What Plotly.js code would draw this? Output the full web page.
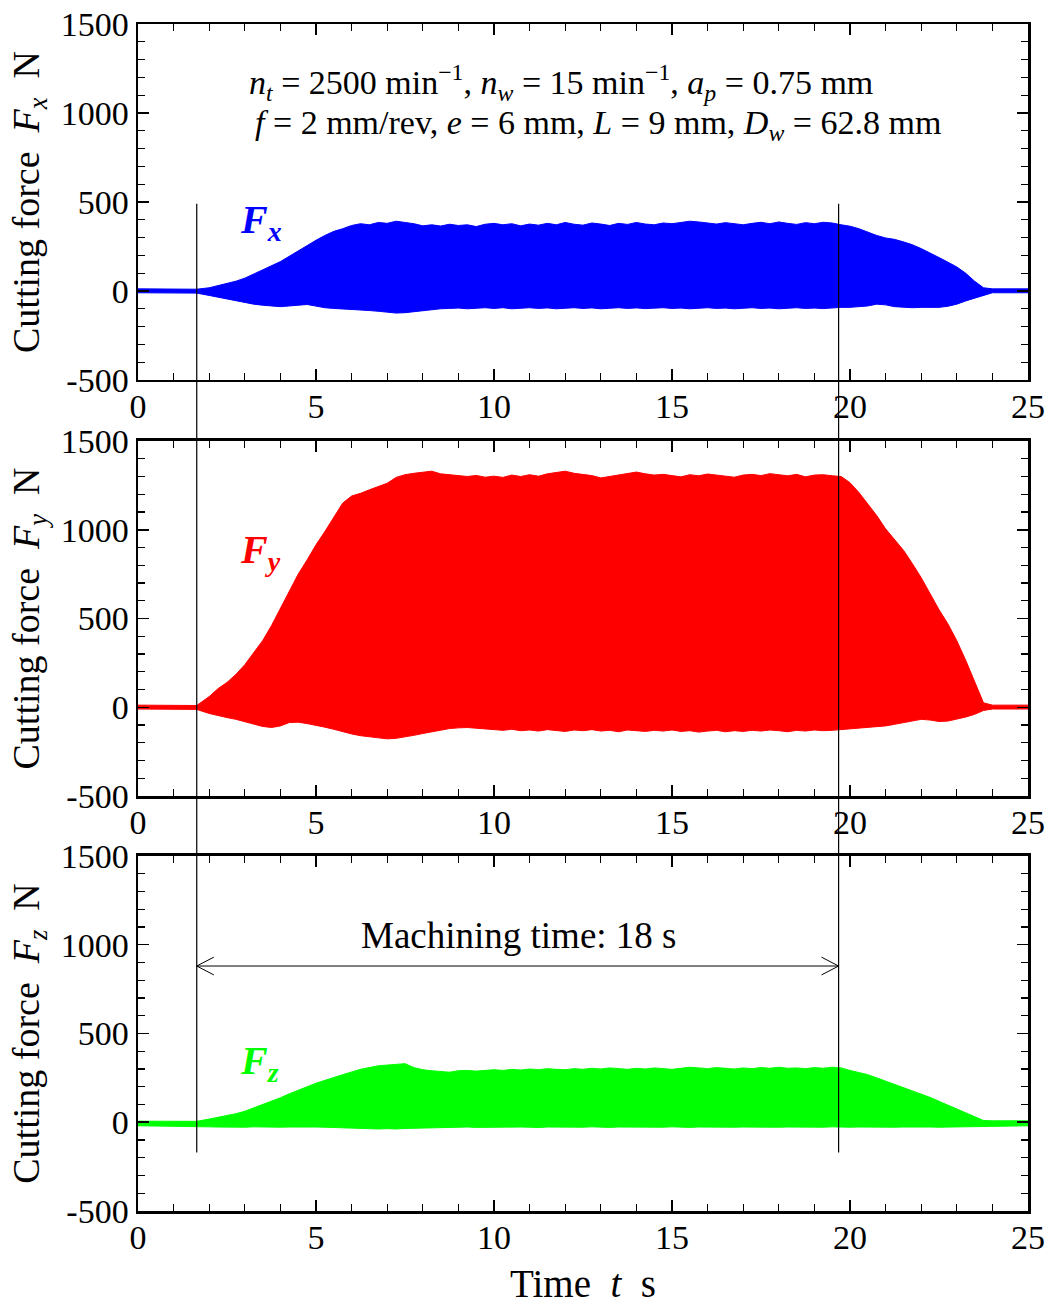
<!DOCTYPE html>
<html>
<head>
<meta charset="utf-8">
<script src="https://cdn.plot.ly/plotly-3.0.1.min.js"></script>
<style>html,body{margin:0;padding:0;background:#fff;}#chart{width:1051px;height:1305px;}</style>
</head>
<body>
<div id="chart"></div>
<script>
// Time axis (s)
const timeS = [0, 1.65,
  2, 2.25, 2.5, 2.75, 3, 3.25, 3.5, 3.75, 4, 4.25, 4.5, 4.75, 5, 5.25, 5.5, 5.75,
  6, 6.25, 6.5, 6.75, 7, 7.25, 7.5, 7.75, 8, 8.25, 8.5, 8.75, 9, 9.25, 9.5, 9.75,
  10, 10.25, 10.5, 10.75, 11, 11.25, 11.5, 11.75, 12, 12.25, 12.5, 12.75, 13, 13.25, 13.5, 13.75,
  14, 14.25, 14.5, 14.75, 15, 15.25, 15.5, 15.75, 16, 16.25, 16.5, 16.75, 17, 17.25, 17.5, 17.75,
  18, 18.25, 18.5, 18.75, 19, 19.25, 19.5, 19.75, 20, 20.25, 20.5, 20.75, 21, 21.25, 21.5, 21.75,
  22, 22.25, 22.5, 22.75, 23, 23.25, 23.5, 23.75, 24, 25];

// Fx envelope (N)
const fxUpper = [12, 10,
  18, 30, 40, 55, 72, 95, 115, 140, 165, 195, 225, 258, 285, 312, 335, 350,
  368, 378, 372, 385, 380, 392, 386, 378, 366, 372, 365, 375, 368, 372, 362, 375,
  380, 372, 378, 366, 376, 370, 380, 372, 385, 375, 370, 382, 376, 368, 380, 374,
  385, 376, 372, 382, 378, 386, 392, 388, 382, 376, 384, 378, 372, 380, 386, 378,
  388, 380, 374, 384, 378, 386, 382, 372, 364, 350, 330, 312, 298, 290, 276, 260,
  238, 215, 188, 162, 135, 100, 55, 18, 12, 12];
const fxLower = [-10, -12,
  -25, -35, -48, -58, -66, -74, -80, -86, -88, -84, -78, -76, -85, -94, -98, -100,
  -104, -108, -110, -114, -118, -124, -122, -116, -108, -104, -100, -98, -96, -100, -96, -94,
  -98, -94, -100, -96, -94, -98, -95, -100, -96, -94, -98, -95, -100, -96, -94, -98,
  -95, -99, -96, -94, -98, -96, -100, -95, -94, -98, -96, -100, -95, -94, -98, -96,
  -100, -95, -94, -98, -96, -99, -95, -92, -92, -88, -84, -74, -78, -88, -92, -94,
  -92, -94, -92, -86, -74, -56, -40, -22, -10, -10];

// Fy envelope (N)
const fyUpper = [12, 10,
  60, 105, 140, 185, 240, 305, 375, 460, 555, 650, 750, 830, 915, 990, 1070, 1150,
  1190, 1205, 1225, 1245, 1262, 1295, 1310, 1318, 1325, 1330, 1315, 1310, 1305, 1300, 1306, 1296,
  1302, 1295, 1308, 1300, 1310, 1302, 1315, 1322, 1330, 1318, 1312, 1305, 1292, 1300, 1310, 1318,
  1325, 1315, 1308, 1312, 1305, 1298, 1310, 1304, 1314, 1308, 1300, 1296, 1308, 1312, 1305, 1316,
  1310, 1304, 1312, 1298, 1308, 1310, 1304, 1300, 1265, 1210, 1145, 1080, 1005, 945, 885, 810,
  730, 640, 550, 470, 375, 265, 140, 25, 12, 12];
const fyLower = [-10, -12,
  -35, -48, -58, -68, -82, -96, -108, -114, -105, -86, -84, -92, -100, -112, -124, -138,
  -150, -160, -165, -172, -178, -175, -168, -158, -148, -138, -128, -120, -116, -114, -118, -122,
  -126, -130, -124, -132, -128, -134, -126, -130, -136, -128, -132, -126, -134, -130, -138, -128,
  -132, -136, -130, -134, -128, -136, -132, -140, -134, -130, -138, -132, -136, -130, -134, -128,
  -132, -138, -130, -134, -128, -132, -130, -126, -125, -120, -114, -110, -105, -96, -86, -76,
  -68, -72, -80, -78, -68, -55, -40, -18, -10, -10];

// Fz envelope (N)
const fzUpper = [6, 5,
  18, 28, 36, 48, 62, 80, 100, 118, 138, 160, 182, 200, 220, 238, 252, 268,
  285, 298, 308, 318, 322, 326, 330, 308, 296, 290, 286, 282, 290, 292, 288, 294,
  296, 292, 298, 294, 300, 296, 302, 298, 296, 302, 298, 304, 300, 306, 302, 298,
  304, 300, 306, 302, 298, 304, 310, 306, 302, 308, 304, 300, 306, 302, 308, 304,
  310, 304, 306, 302, 308, 304, 310, 306, 292, 282, 268, 250, 232, 214, 196, 180,
  162, 140, 118, 96, 74, 50, 28, 10, 8, 8];
const fzLower = [-20, -22,
  -26, -27, -28, -27, -28, -26, -28, -27, -28, -27, -26, -28, -27, -28, -30, -32,
  -34, -36, -35, -38, -36, -38, -35, -34, -30, -28, -27, -28, -28, -27, -29, -28,
  -27, -28, -29, -27, -28, -30, -27, -28, -29, -27, -28, -26, -28, -29, -27, -28,
  -28, -27, -29, -28, -26, -28, -29, -27, -28, -27, -29, -28, -27, -28, -26, -29,
  -28, -27, -28, -29, -27, -28, -26, -28, -28, -27, -28, -26, -27, -28, -27, -26,
  -28, -27, -28, -27, -28, -27, -26, -24, -20, -20];

// Annotation values
const cutStart = 1.65;   // s
const cutEnd = 19.68;    // s
const machiningLabel = 'Machining time: 18 s';

const FONT = '"Liberation Serif", "Times New Roman", Times, serif';
const NB = '\u00a0';
const yRange = [-500, 1500];
const xRange = [0, 25];
const domains = [[0.7001, 1], [0.3496, 0.6487], [0, 0.2991]];

function env(lower, upper, color, xa, ya) {
  return [
    {x: timeS, y: lower, xaxis: xa, yaxis: ya, type: 'scatter', mode: 'lines',
     line: {color: color, width: 1}, hoverinfo: 'skip', showlegend: false},
    {x: timeS, y: upper, xaxis: xa, yaxis: ya, type: 'scatter', mode: 'lines',
     line: {color: color, width: 1}, fill: 'tonexty', fillcolor: color, hoverinfo: 'skip', showlegend: false}
  ];
}

const data = [].concat(
  env(fxLower, fxUpper, '#0000ff', 'x', 'y'),
  env(fyLower, fyUpper, '#ff0000', 'x2', 'y2'),
  env(fzLower, fzUpper, '#00ff00', 'x3', 'y3')
);

function xAxis(anchor) {
  return {
    domain: [0, 1], anchor: anchor, range: xRange, autorange: false,
    tickmode: 'array', tickvals: [0, 5, 10, 15, 20, 25], ticktext: ['0', '5', '10', '15', '20', '25'],
    ticks: 'inside', ticklen: 11, tickwidth: 1.5, tickcolor: '#000',
    minor: {dtick: 1, tick0: 0, ticks: 'inside', ticklen: 7, tickwidth: 1.2, tickcolor: '#000', showgrid: false},
    showline: true, linewidth: 2.5, linecolor: '#000', mirror: 'allticks',
    showgrid: false, zeroline: false, ticklabelstandoff: -5,
    tickfont: {family: FONT, size: 34, color: '#000'}
  };
}
function yAxis(anchor, dom, sub) {
  return {
    domain: dom, anchor: anchor, range: yRange, autorange: false,
    tickmode: 'array', tickvals: [-500, 0, 500, 1000, 1500], ticktext: ['-500', '0', '500', '1000', '1500'],
    ticks: 'inside', ticklen: 11, tickwidth: 1.5, tickcolor: '#000',
    minor: {dtick: 100, tick0: 0, ticks: 'inside', ticklen: 7, tickwidth: 1.2, tickcolor: '#000', showgrid: false},
    showline: true, linewidth: 2.5, linecolor: '#000', mirror: 'allticks',
    showgrid: false, zeroline: false,
    tickfont: {family: FONT, size: 34, color: '#000'},
    title: {text: 'Cutting force' + NB + NB + '<i>F</i><sub><i>' + sub + '</i></sub>' + NB + NB + 'N',
            font: {family: FONT, size: 38, color: '#000'}, standoff: 10}
  };
}

function toPaper(val, dom) {
  return dom[0] + (val - yRange[0]) / (yRange[1] - yRange[0]) * (dom[1] - dom[0]);
}

const lineTop = toPaper(490, domains[0]);
const lineBot = toPaper(-170, domains[2]);
const arrowY = 880;
const headDx = 0.48, headDy = 50;

const shapes = [
  {type: 'line', xref: 'x', yref: 'paper', x0: cutStart, x1: cutStart, y0: lineBot, y1: lineTop, line: {color: '#000', width: 1.2}},
  {type: 'line', xref: 'x', yref: 'paper', x0: cutEnd, x1: cutEnd, y0: lineBot, y1: lineTop, line: {color: '#000', width: 1.2}},
  {type: 'line', xref: 'x3', yref: 'y3', x0: cutStart, x1: cutEnd, y0: arrowY, y1: arrowY, line: {color: '#000', width: 1}},
  {type: 'path', xref: 'x3', yref: 'y3', line: {color: '#000', width: 1},
   path: 'M' + (cutStart + headDx) + ',' + (arrowY + headDy) + ' L' + cutStart + ',' + arrowY + ' L' + (cutStart + headDx) + ',' + (arrowY - headDy)},
  {type: 'path', xref: 'x3', yref: 'y3', line: {color: '#000', width: 1},
   path: 'M' + (cutEnd - headDx) + ',' + (arrowY + headDy) + ' L' + cutEnd + ',' + arrowY + ' L' + (cutEnd - headDx) + ',' + (arrowY - headDy)}
];

const annotations = [
  {xref: 'x', yref: 'y', x: 11.88, y: 1172, showarrow: false, xanchor: 'center', yanchor: 'middle',
   text: '<i>n</i><sub><i>t</i></sub> = 2500 min<sup>−1</sup>, <i>n</i><sub><i>w</i></sub> = 15 min<sup>−1</sup>, <i>a</i><sub><i>p</i></sub> = 0.75 mm',
   font: {family: FONT, size: 34, color: '#000'}},
  {xref: 'x', yref: 'y', x: 12.92, y: 935, showarrow: false, xanchor: 'center', yanchor: 'middle',
   text: '<i>f</i> = 2 mm/rev, <i>e</i> = 6 mm, <i>L</i> = 9 mm, <i>D</i><sub><i>w</i></sub> = 62.8 mm',
   font: {family: FONT, size: 34, color: '#000'}},
  {xref: 'x', yref: 'y', x: 3.45, y: 390, showarrow: false, xanchor: 'center', yanchor: 'middle',
   text: '<b><i>F</i></b><sub><b><i>x</i></b></sub>', font: {family: FONT, size: 40, color: '#0000ff'}},
  {xref: 'x2', yref: 'y2', x: 3.45, y: 875, showarrow: false, xanchor: 'center', yanchor: 'middle',
   text: '<b><i>F</i></b><sub><b><i>y</i></b></sub>', font: {family: FONT, size: 40, color: '#ff0000'}},
  {xref: 'x3', yref: 'y3', x: 3.4, y: 335, showarrow: false, xanchor: 'center', yanchor: 'middle',
   text: '<b><i>F</i></b><sub><b><i>z</i></b></sub>', font: {family: FONT, size: 40, color: '#00ff00'}},
  {xref: 'x3', yref: 'y3', x: 10.7, y: 1050, showarrow: false, xanchor: 'center', yanchor: 'middle',
   text: machiningLabel, font: {family: FONT, size: 37, color: '#000'}}
];

const xa3 = xAxis('y3');
xa3.title = {text: 'Time' + NB + NB + '<i>t</i>' + NB + NB + 's', font: {family: FONT, size: 39, color: '#000'}, standoff: 18};

const layout = {
  width: 1051, height: 1305,
  margin: {l: 138, r: 23, t: 24, b: 94},
  paper_bgcolor: '#fff', plot_bgcolor: '#fff',
  showlegend: false,
  font: {family: FONT, color: '#000'},
  xaxis: xAxis('y'), xaxis2: xAxis('y2'), xaxis3: xa3,
  yaxis: yAxis('x', domains[0], 'x'),
  yaxis2: yAxis('x2', domains[1], 'y'),
  yaxis3: yAxis('x3', domains[2], 'z'),
  shapes: shapes,
  annotations: annotations
};

Plotly.newPlot('chart', data, layout, {displayModeBar: false, staticPlot: true});
</script>
</body>
</html>
